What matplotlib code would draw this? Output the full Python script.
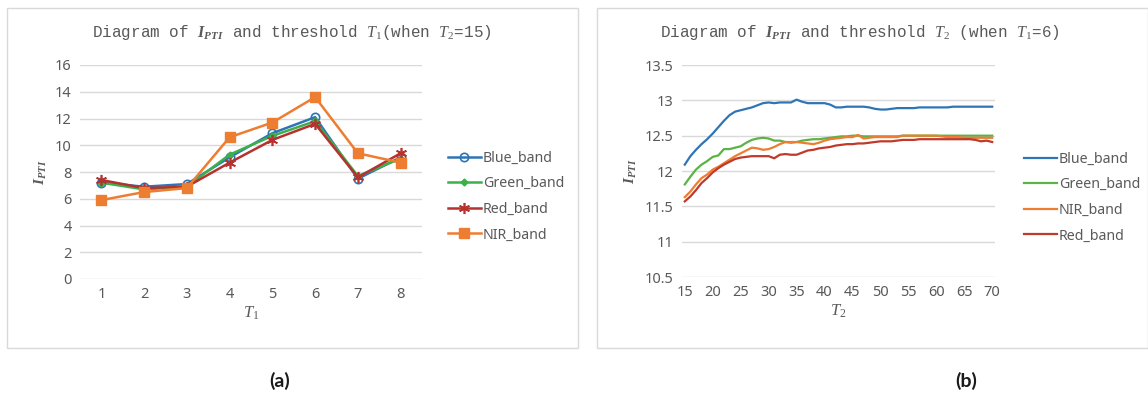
import matplotlib.pyplot as plt
from matplotlib.patches import Rectangle
import numpy as np

plt.rcParams['mathtext.fontset'] = 'custom'
plt.rcParams['mathtext.rm'] = 'Liberation Serif'
plt.rcParams['mathtext.it'] = 'Liberation Serif:italic'
plt.rcParams['mathtext.bf'] = 'Liberation Serif:bold:italic'

# panel (a) data
t1 = [1, 2, 3, 4, 5, 6, 7, 8]
blue_a = [7.2, 6.9, 7.1, 9.1, 10.9, 12.1, 7.5, 9.1]
green_a = [7.2, 6.7, 6.9, 9.3, 10.7, 11.8, 7.7, 9.0]
red_a = [7.4, 6.8, 6.9, 8.7, 10.4, 11.6, 7.6, 9.4]
nir_a = [5.9, 6.5, 6.8, 10.6, 11.7, 13.6, 9.4, 8.7]

# panel (b) data, T2 = 15..70
t2 = list(range(15, 71))
blue_b = [12.09, 12.21, 12.30, 12.38, 12.45, 12.53, 12.62, 12.71, 12.79, 12.84,
          12.86, 12.88, 12.90, 12.93, 12.96, 12.97, 12.96, 12.97, 12.97, 12.97,
          13.01, 12.98, 12.96, 12.96, 12.96, 12.96, 12.94, 12.90, 12.90, 12.91,
          12.91, 12.91, 12.91, 12.90, 12.88, 12.87, 12.87, 12.88, 12.89, 12.89,
          12.89, 12.89, 12.90, 12.90, 12.90, 12.90, 12.90, 12.90, 12.91, 12.91,
          12.91, 12.91, 12.91, 12.91, 12.91, 12.91]
green_b = [11.81, 11.92, 12.02, 12.09, 12.14, 12.20, 12.22, 12.31, 12.31, 12.33,
           12.35, 12.40, 12.44, 12.46, 12.47, 12.46, 12.43, 12.43, 12.41, 12.40,
           12.41, 12.43, 12.44, 12.45, 12.45, 12.46, 12.47, 12.48, 12.49, 12.49,
           12.50, 12.50, 12.49, 12.49, 12.49, 12.49, 12.49, 12.49, 12.49, 12.50,
           12.50, 12.50, 12.50, 12.50, 12.50, 12.50, 12.50, 12.50, 12.50, 12.50,
           12.50, 12.50, 12.50, 12.50, 12.50, 12.50]
nir_b = [11.63, 11.71, 11.81, 11.90, 11.95, 12.02, 12.06, 12.11, 12.16, 12.21,
         12.25, 12.29, 12.33, 12.32, 12.30, 12.31, 12.34, 12.38, 12.41, 12.41,
         12.41, 12.40, 12.39, 12.38, 12.40, 12.43, 12.45, 12.46, 12.47, 12.48,
         12.48, 12.51, 12.46, 12.47, 12.48, 12.48, 12.48, 12.48, 12.48, 12.50,
         12.50, 12.50, 12.50, 12.50, 12.50, 12.50, 12.49, 12.48, 12.48, 12.48,
         12.47, 12.47, 12.47, 12.47, 12.47, 12.47]
red_b = [11.57, 11.64, 11.73, 11.83, 11.90, 11.98, 12.04, 12.09, 12.13, 12.17,
         12.19, 12.20, 12.21, 12.21, 12.21, 12.21, 12.18, 12.23, 12.24, 12.23,
         12.23, 12.26, 12.29, 12.30, 12.32, 12.33, 12.34, 12.36, 12.37, 12.38,
         12.38, 12.39, 12.39, 12.40, 12.41, 12.42, 12.42, 12.42, 12.43, 12.44,
         12.44, 12.44, 12.45, 12.45, 12.45, 12.45, 12.45, 12.45, 12.45, 12.45,
         12.45, 12.45, 12.44, 12.42, 12.43, 12.41]

BLUE = '#2E75B6'
GREEN = '#3CB04A'
RED = '#B5322E'
ORANGE = '#ED7D31'
GRAY = '#595959'
GRID = '#D9D9D9'

W, H = 1148, 393
fig = plt.figure(figsize=(W / 100, H / 100), dpi=100)

# panel borders
for x0, w in [(7, 571), (597, 551)]:
    fig.patches.append(Rectangle((x0 / W, 1 - 348 / H), w / W, 340 / H,
                                 transform=fig.transFigure, fill=False,
                                 edgecolor=GRID, linewidth=1))


def style(ax):
    for s in ax.spines.values():
        s.set_visible(False)
    ax.grid(axis='y', color=GRID, linewidth=1)
    ax.set_axisbelow(True)
    ax.tick_params(length=0, labelsize=10.5, labelcolor=GRAY, pad=6)
    for lab in ax.get_xticklabels() + ax.get_yticklabels():
        lab.set_family('Noto Sans')


def legend(ax, x, y):
    ax.legend(loc='center left', bbox_to_anchor=(x / W, 1 - y / H),
              bbox_transform=fig.transFigure, frameon=False,
              prop={'family': 'Noto Sans', 'size': 10.2}, labelcolor=GRAY,
              handlelength=2.3, handletextpad=0.15, labelspacing=0.75,
              borderpad=0, borderaxespad=0)


# (a)
ax1 = fig.add_axes([80 / W, 1 - 279 / H, 342 / W, 214 / H])
ax1.plot(t1, blue_a, color=BLUE, lw=1.8, marker='o', ms=6, mfc='none', mew=1.2, label='Blue_band')
ax1.plot(t1, green_a, color=GREEN, lw=1.8, marker='D', ms=3.5, label='Green_band')
ax1.plot(t1, red_a, color=RED, lw=1.8, marker=(6, 2, 0), ms=8, mew=1.2, label='Red_band')
ax1.plot(t1, nir_a, color=ORANGE, lw=1.8, marker='s', ms=6.5, label='NIR_band')
ax1.set_xlim(0.5, 8.5)
ax1.set_ylim(0, 16)
ax1.set_xticks(t1)
ax1.set_yticks(np.arange(0, 17, 2))
style(ax1)
ax1.set_xlabel('$T_1$', fontsize=12, color=GRAY, labelpad=1)
ax1.set_ylabel('$\\mathbf{I_{PTI}}$', fontsize=11, color=GRAY, labelpad=4)
fig.text(292 / W, 1 - 33 / H,
         'Diagram of $\\mathbf{I_{PTI}}$ and threshold $T_1$(when $T_2$=15)',
         family='Liberation Mono', fontsize=11.5, color=GRAY, ha='center', va='center')
legend(ax1, 448, 196.5)
fig.text(280 / W, 1 - 381 / H, '(a)', fontsize=14, fontweight='bold',
         family='Lato', ha='center', va='center', color='#1a1a1a')

# (b)
ax2 = fig.add_axes([682 / W, 1 - 277 / H, 313 / W, 212 / H])
ax2.plot(t2, blue_b, color=BLUE, lw=1.6, label='Blue_band')
ax2.plot(t2, green_b, color='#5BB345', lw=1.6, label='Green_band')
ax2.plot(t2, nir_b, color=ORANGE, lw=1.6, label='NIR_band')
ax2.plot(t2, red_b, color='#C0392B', lw=1.6, label='Red_band')
ax2.set_xlim(14.5, 70.5)
ax2.set_ylim(10.5, 13.5)
ax2.set_xticks(range(15, 71, 5))
ax2.set_yticks([10.5, 11, 11.5, 12, 12.5, 13, 13.5])
ax2.set_yticklabels(['10.5', '11', '11.5', '12', '12.5', '13', '13.5'])
style(ax2)
ax2.set_xlabel('$T_2$', fontsize=12, color=GRAY, labelpad=1)
ax2.set_ylabel('$\\mathbf{I_{PTI}}$', fontsize=11, color=GRAY, labelpad=4)
fig.text(860 / W, 1 - 33 / H,
         'Diagram of $\\mathbf{I_{PTI}}$ and threshold $T_2$ (when $T_1$=6)',
         family='Liberation Mono', fontsize=11.5, color=GRAY, ha='center', va='center')
legend(ax2, 1024, 197.5)
fig.text(966 / W, 1 - 381 / H, '(b)', fontsize=14, fontweight='bold',
         family='Lato', ha='center', va='center', color='#1a1a1a')

fig.savefig('out.png', dpi=100, facecolor='white')
